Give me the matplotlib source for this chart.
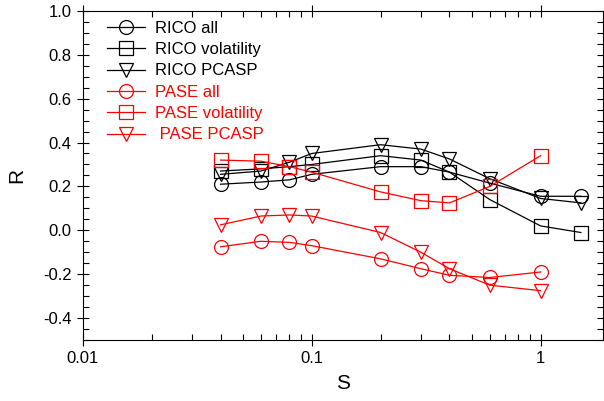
import matplotlib
matplotlib.use('Agg')
import matplotlib.pyplot as plt
import numpy as np
from matplotlib.ticker import LogLocator, FixedLocator, MultipleLocator, FixedFormatter

plt.rcParams['font.family'] = ['Liberation Sans', 'DejaVu Sans']

# Data
s_rico = [0.04, 0.06, 0.08, 0.1, 0.2, 0.3, 0.4, 0.6, 1.0, 1.5]
s_pase = [0.04, 0.06, 0.08, 0.1, 0.2, 0.3, 0.4, 0.6, 1.0]

rico_all = [0.21, 0.22, 0.23, 0.255, 0.29, 0.29, 0.265, 0.215, 0.155, 0.155]
rico_vol = [0.27, 0.28, 0.29, 0.30, 0.34, 0.32, 0.265, 0.14, 0.02, -0.01]
rico_pcasp = [0.255, 0.27, 0.31, 0.35, 0.39, 0.37, 0.325, 0.235, 0.145, 0.125]

pase_all = [-0.075, -0.05, -0.055, -0.07, -0.13, -0.175, -0.205, -0.215, -0.19]
pase_vol = [0.32, 0.315, 0.29, 0.265, 0.175, 0.135, 0.125, 0.20, 0.34]
pase_pcasp = [0.025, 0.065, 0.07, 0.065, -0.01, -0.10, -0.175, -0.25, -0.275]

fig = plt.figure(figsize=(6.04, 4.01), dpi=100)
ax = fig.add_axes([0.137, 0.152, 0.861, 0.821])

mk = dict(markersize=10, markerfacecolor='none', markeredgewidth=0.9, linewidth=0.9)
ax.plot(s_rico, rico_all, 'o-', color='black', label='RICO all', **mk)
ax.plot(s_rico, rico_vol, 's-', color='black', label='RICO volatility', **mk)
ax.plot(s_rico, rico_pcasp, 'v-', color='black', label='RICO PCASP', **mk)
ax.plot(s_pase, pase_all, 'o-', color='red', label='PASE all', **mk)
ax.plot(s_pase, pase_vol, 's-', color='red', label='PASE volatility', **mk)
ax.plot(s_pase, pase_pcasp, 'v-', color='red', label=' PASE PCASP', **mk)

ax.set_xscale('log')
ax.set_xlim(0.01, 1.87)
ax.set_ylim(-0.5, 1.0)
ax.xaxis.set_major_locator(FixedLocator([0.01, 0.1, 1]))
ax.xaxis.set_major_formatter(FixedFormatter(['0.01', '0.1', '1']))
ax.xaxis.set_minor_locator(LogLocator(base=10, subs=np.arange(2, 10)))
ax.xaxis.set_minor_formatter(plt.NullFormatter())
ax.yaxis.set_major_locator(FixedLocator([-0.4, -0.2, 0.0, 0.2, 0.4, 0.6, 0.8, 1.0]))
ax.yaxis.set_major_formatter(FixedFormatter(['-0.4', '-0.2', '0.0', '0.2', '0.4', '0.6', '0.8', '1.0']))
ax.yaxis.set_minor_locator(MultipleLocator(0.05))

ax.tick_params(which='major', direction='inout', length=9, width=0.8,
               top=True, right=True, labelsize=12)
ax.tick_params(which='minor', direction='in', length=4, width=0.8, top=True, right=True)
for sp in ax.spines.values():
    sp.set_linewidth(0.8)

ax.set_xlabel('S', fontsize=15, labelpad=6)
ax.set_ylabel('R', fontsize=15, labelpad=12)

leg = ax.legend(loc='upper left', frameon=False, fontsize=12, handlelength=2.3,
                handletextpad=0.6, labelspacing=0.38, borderaxespad=0.0,
                bbox_to_anchor=(0.033, 0.99))
for t, h in zip(leg.get_texts(), leg.legend_handles):
    t.set_color(h.get_color())

fig.savefig('out.png', dpi=100)
